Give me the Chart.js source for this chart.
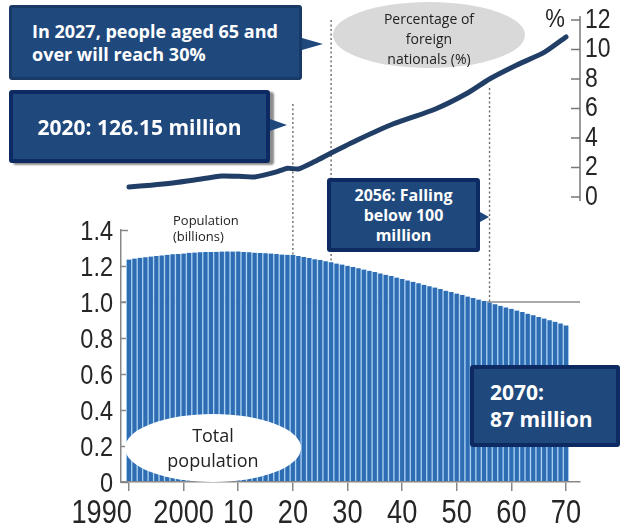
<!DOCTYPE html>
<html>
<head>
<meta charset="utf-8">
<script src="https://cdn.jsdelivr.net/npm/chart.js@4.4.0/dist/chart.umd.min.js"></script>
<style>
  html, body { margin: 0; padding: 0; background: #fff; }
  #wrap { position: relative; width: 621px; height: 525px; overflow: hidden; font-family: "Open Sans", sans-serif; }
  #chart { position: absolute; left: 0; top: 0; }
  .note { position: absolute; box-sizing: border-box; background: #1f497d; color: #fff; font-weight: 700;
          border: 4px solid #0d2b62; border-radius: 3px; display: flex; align-items: center; }
  .arrow::after { content: ""; position: absolute; border-style: solid; width: 0; height: 0; }
  #n2027 { left: 9px; top: 5px; width: 293px; height: 75px; border: 3px solid #193a66;
           font-size: 18px; line-height: 23px; padding-left: 20px; }
  #n2027::after { left: calc(100% + 3px); top: 30px; border-width: 6px 0 6px 21px; border-color: transparent transparent transparent #1f497d; }
  #n2020 { left: 9px; top: 90px; width: 261px; height: 73px; font-size: 21px; justify-content: center;
           box-shadow: 4px 2px 2px rgba(0,0,0,0.45); }
  #n2020::after { left: calc(100% + 4px); top: 25px; border-width: 6px 0 6px 17px; border-color: transparent transparent transparent #1f497d; }
  #n2056 { left: 327px; top: 178px; width: 153px; height: 74px; font-size: 16px; line-height: 20px;
           justify-content: center; text-align: center; }
  #n2056::after { left: calc(100% + 4px); top: 30px; border-width: 5px 0 5px 9px; border-color: transparent transparent transparent #1f497d; }
  #n2070 { left: 470px; top: 365px; width: 150px; height: 82px; font-size: 21px; line-height: 27px; padding-left: 16px; }
  .oval { position: absolute; border-radius: 50%; display: flex; align-items: center; justify-content: center;
          text-align: center; color: #222; }
  #ovalPop { left: 125px; top: 414px; width: 176px; height: 68px; background: #fff; font-size: 18px; line-height: 25px; }
  #ovalPct { left: 333px; top: 2px; width: 192px; height: 66px; background: #d9d9d9; font-size: 14px; line-height: 20px; padding-top: 8px; box-sizing: border-box; }
  #popUnit { position: absolute; left: 173px; top: 212px; font-size: 13px; line-height: 16px; color: #222; }
</style>
</head>
<body>
<div id="wrap">
  <canvas id="chart" width="621" height="525"></canvas>
  <div id="popUnit">Population<br>(billions)</div>
  <div class="oval" id="ovalPct"><div>Percentage of<br>foreign<br>nationals (%)</div></div>
  <div class="oval" id="ovalPop"><div>Total<br>population</div></div>
  <div class="note arrow" id="n2027"><div>In 2027, people aged 65 and<br>over will reach 30%</div></div>
  <div class="note arrow" id="n2020"><div>2020: 126.15 million</div></div>
  <div class="note arrow" id="n2056"><div>2056: Falling<br>below 100<br>million</div></div>
  <div class="note" id="n2070"><div>2070:<br>87 million</div></div>
</div>
<script>
// yearly total population, 1990-2070 (in units of 100 million)
const years = [];
for (let y = 1990; y <= 2070; y++) years.push(y);
const population = [
  1.236, 1.241, 1.246, 1.249, 1.253, 1.256, 1.259, 1.262, 1.265, 1.267,
  1.269, 1.273, 1.275, 1.277, 1.278, 1.278, 1.279, 1.280, 1.281, 1.280,
  1.281, 1.278, 1.276, 1.274, 1.272, 1.271, 1.269, 1.267, 1.264, 1.262,
  1.2615, 1.255, 1.250, 1.244, 1.238, 1.233, 1.227, 1.221, 1.214, 1.208,
  1.201, 1.194, 1.187, 1.180, 1.173, 1.166, 1.159, 1.151, 1.144, 1.136,
  1.128, 1.120, 1.112, 1.104, 1.096, 1.088, 1.080, 1.072, 1.063, 1.055,
  1.047, 1.039, 1.030, 1.022, 1.014, 1.005, 0.997, 0.988, 0.979, 0.970,
  0.962, 0.953, 0.944, 0.935, 0.926, 0.917, 0.908, 0.899, 0.890, 0.881,
  0.870
];

// share of foreign nationals (%)
const foreignYears = [1990, 1994, 1998, 2002, 2007, 2010, 2013, 2017, 2019, 2021, 2024, 2027, 2032, 2038, 2046, 2052, 2056, 2061, 2066, 2070];
const foreignPct = [0.68, 0.8, 0.95, 1.15, 1.42, 1.4, 1.36, 1.7, 1.95, 1.9, 2.4, 2.98, 3.9, 4.9, 5.95, 7.05, 8.0, 8.95, 9.8, 10.85];

const yearTicks = [1990, 2000, 2010, 2020, 2030, 2040, 2050, 2060, 2070];
const yearTickLabels = ['1990', '2000', '10', '20', '30', '40', '50', '60', '70'];
const popTicks = [0, 0.2, 0.4, 0.6, 0.8, 1.0, 1.2, 1.4];
const popTickLabels = ['0', '0.2', '0.4', '0.6', '0.8', '1.0', '1.2', '1.4'];
const pctTicks = [0, 2, 4, 6, 8, 10, 12];
const markerYears = [2020, 2027, 2056];

// the % axis sits above the bar area: 0 at y=197, 12 at y=20
const AREA_TOP = 230, AREA_BOTTOM = 482;
const PCT_ZERO_PX = 197, PCT_TOP_PX = 20;
const pctPerPx = 12 / (PCT_ZERO_PX - PCT_TOP_PX);
const pctMin = -(AREA_BOTTOM - PCT_ZERO_PX) * pctPerPx;
const pctMax = pctMin + (AREA_BOTTOM - AREA_TOP) * pctPerPx;

// condensed axis numbers
function narrowText(ctx, text, x, y, size, align, baseline, sx) {
  ctx.save();
  ctx.font = size + 'px "Liberation Sans", Arial, sans-serif';
  ctx.textAlign = align;
  ctx.textBaseline = baseline;
  ctx.fillStyle = '#262626';
  ctx.translate(x, y);
  ctx.scale(sx, 1);
  ctx.fillText(text, 0, 0);
  ctx.restore();
}

const axisPlugin = {
  id: 'axisDecor',
  beforeDatasetsDraw(chart) {
    const ctx = chart.ctx, sx = chart.scales.x, sy = chart.scales.y;
    // small inward ticks on the left axis
    ctx.save();
    ctx.strokeStyle = '#888';
    ctx.lineWidth = 1.5;
    popTicks.forEach(v => {
      const py = Math.round(sy.getPixelForValue(v)) + 0.5;
      ctx.beginPath();
      ctx.moveTo(sx.left, py);
      ctx.lineTo(sx.left + 7, py);
      ctx.stroke();
    });
    // dotted year markers
    const tops = [104, 20, 88];
    ctx.strokeStyle = '#6a6a6a';
    ctx.lineWidth = 1.4;
    ctx.setLineDash([2, 2.5]);
    markerYears.forEach((yr, i) => {
      const px = sx.getPixelForValue(yr);
      const bottom = sy.getPixelForValue(population[yr - 1990]);
      ctx.beginPath();
      ctx.moveTo(px, tops[i]);
      ctx.lineTo(px, bottom);
      ctx.stroke();
    });
    ctx.restore();
  },
  afterDraw(chart) {
    const ctx = chart.ctx, sx = chart.scales.x, sy = chart.scales.y, s2 = chart.scales.y2;
    popTicks.forEach((v, i) => {
      narrowText(ctx, popTickLabels[i], sy.right - 8, sy.getPixelForValue(v) + 2, 28, 'right', 'middle', 0.84);
    });
    yearTicks.forEach((v, i) => {
      const px = sx.getPixelForValue(v);
      if (i === 0) narrowText(ctx, yearTickLabels[i], px + 3, 523, 34, 'right', 'alphabetic', 0.8);
      else narrowText(ctx, yearTickLabels[i], px, 523, 34, 'center', 'alphabetic', 0.8);
    });
    // right-hand % axis
    const ax = chart.chartArea.right;
    ctx.save();
    ctx.strokeStyle = '#777';
    ctx.lineWidth = 1.5;
    ctx.beginPath();
    ctx.moveTo(ax, s2.getPixelForValue(12) - 4);
    ctx.lineTo(ax, s2.getPixelForValue(0) + 4);
    ctx.stroke();
    pctTicks.forEach(v => {
      const py = s2.getPixelForValue(v);
      ctx.beginPath();
      ctx.moveTo(ax - 9, py);
      ctx.lineTo(ax, py);
      ctx.stroke();
    });
    ctx.restore();
    pctTicks.forEach(v => {
      narrowText(ctx, String(v), ax + 5, s2.getPixelForValue(v), 28, 'left', 'middle', 0.82);
    });
    narrowText(ctx, '%', ax - 15, s2.getPixelForValue(12), 26, 'right', 'middle', 0.85);
  }
};

const ctx = document.getElementById('chart').getContext('2d');
new Chart(ctx, {
  data: {
    datasets: [
      {
        type: 'line',
        label: 'Percentage of foreign nationals (%)',
        data: foreignYears.map((yr, i) => ({ x: yr, y: foreignPct[i] })),
        yAxisID: 'y2',
        borderColor: '#213f66',
        borderWidth: 5,
        borderCapStyle: 'round',
        pointRadius: 0,
        tension: 0.2,
        clip: false,
        order: 0
      },
      {
        type: 'bar',
        label: 'Total population',
        data: years.map((yr, i) => ({ x: yr, y: population[i] })),
        yAxisID: 'y',
        backgroundColor: '#2e6db3',
        borderColor: '#a8cff0',
        borderWidth: { left: 1, right: 1, top: 0, bottom: 0 },
        borderSkipped: false,
        barPercentage: 1,
        categoryPercentage: 1,
        order: 1
      }
    ]
  },
  options: {
    responsive: false,
    animation: false,
    layout: { padding: { top: AREA_TOP, right: 41, left: 0, bottom: 0 } },
    plugins: { legend: { display: false }, tooltip: { enabled: false } },
    scales: {
      x: {
        type: 'linear',
        offset: false,
        min: 1990 - 8 / 5.4625,
        max: 2070 + 14 / 5.4625,
        afterBuildTicks: s => { s.ticks = yearTicks.map(v => ({ value: v })); },
        afterFit: s => { s.height = 525 - AREA_BOTTOM; },
        ticks: { display: false },
        grid: { offset: false, drawOnChartArea: false, drawTicks: true, tickLength: 9, color: '#888', lineWidth: 1.5 },
        border: { color: '#888', width: 1.5 }
      },
      y: {
        min: 0,
        max: 1.4,
        afterBuildTicks: s => { s.ticks = popTicks.map(v => ({ value: v })); },
        afterFit: s => { s.width = 121; },
        ticks: { display: false },
        grid: {
          drawTicks: false,
          lineWidth: 2,
          color: c => (c.tick && c.tick.value === 1 ? '#a9a9a9' : 'rgba(0,0,0,0)')
        },
        border: { color: '#888', width: 1.5 }
      },
      y2: { display: false, position: 'right', min: pctMin, max: pctMax }
    }
  },
  plugins: [axisPlugin]
});
</script>
</body>
</html>
